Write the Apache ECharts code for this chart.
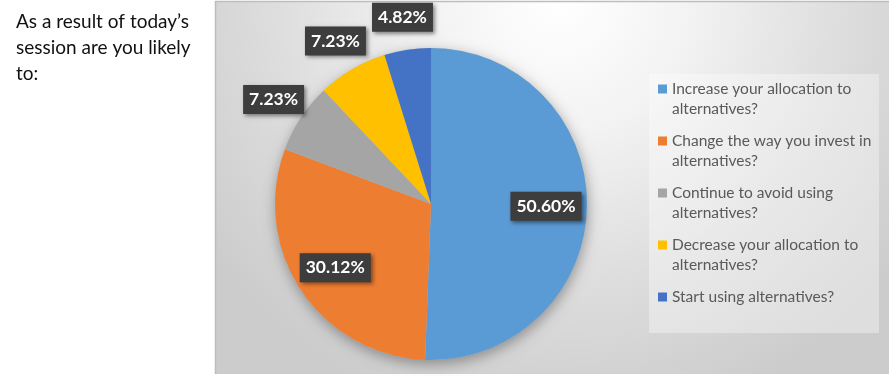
<!DOCTYPE html>
<html>
<head>
<meta charset="utf-8">
<script src="https://cdn.jsdelivr.net/npm/echarts@6/dist/echarts.min.js"></script>
<style>
  html, body { margin: 0; padding: 0; background: #ffffff; }
  #chart { width: 892px; height: 376px; }
</style>
</head>
<body>
<div id="chart"></div>
<script>
// ---- data ----
const categories = [
  'Increase your allocation to alternatives?',
  'Change the way you invest in alternatives?',
  'Continue to avoid using alternatives?',
  'Decrease your allocation to alternatives?',
  'Start using alternatives?'
];
const legendLabels = [
  'Increase your allocation to\nalternatives?',
  'Change the way you invest in\nalternatives?',
  'Continue to avoid using\nalternatives?',
  'Decrease your allocation to\nalternatives?',
  'Start using alternatives?'
];
const values = [50.60, 30.12, 7.23, 7.23, 4.82];
const colors = ['#5B9BD5', '#ED7D31', '#A5A5A5', '#FFC000', '#4472C4'];
const titleText = 'As a result of today\u2019s\nsession are you likely\nto:';

// ---- chart ----
const chart = echarts.init(document.getElementById('chart'), null, { renderer: 'canvas' });
const FONT = 'Lato, "Open Sans", sans-serif';
const center = [431, 204];
const R = 156;
const total = values.reduce((a, b) => a + b, 0);

const labelBox = {
  color: '#ffffff',
  fontFamily: FONT,
  fontWeight: 'bold',
  fontSize: 17.5,
  backgroundColor: '#3d3d3d',
  padding: [6, 6, 5, 6],
  shadowBlur: 4,
  shadowOffsetX: 2,
  shadowOffsetY: 2,
  shadowColor: 'rgba(0,0,0,0.45)',
  formatter: p => p.value.toFixed(2) + '%'
};

function labelSeries(radius, showFn) {
  return {
    type: 'pie',
    center: center,
    radius: radius,
    startAngle: 90,
    clockwise: true,
    silent: true,
    z: 5,
    animation: false,
    itemStyle: { color: 'rgba(0,0,0,0)', borderWidth: 0 },
    emphasis: { disabled: true },
    labelLine: { show: false },
    data: categories.map((c, i) => ({
      name: c,
      value: values[i],
      label: Object.assign({ show: showFn(values[i]), position: 'inside' }, labelBox)
    }))
  };
}

const option = {
  animation: false,
  title: {
    text: titleText,
    left: 16,
    top: 9,
    padding: 0,
    textStyle: {
      fontFamily: FONT,
      fontWeight: 'normal',
      fontSize: 19,
      lineHeight: 26,
      color: '#111111'
    }
  },
  graphic: [
    {
      type: 'rect',
      z: -10,
      shape: { x: 215, y: 1, width: 674, height: 373 },
      style: {
        fill: {
          type: 'radial', x: 0.51, y: 0.0, r: 1.15,
          colorStops: [
            { offset: 0, color: '#ffffff' },
            { offset: 0.3, color: '#f3f3f3' },
            { offset: 0.65, color: '#dedede' },
            { offset: 1, color: '#cccccc' }
          ]
        }
      }
    },
    {
      type: 'polyline',
      z: -9,
      shape: { points: [[215.5, 374], [215.5, 1.5], [889, 1.5]] },
      style: { stroke: '#bdbdbd', lineWidth: 1.5, fill: null }
    },
    {
      type: 'rect',
      z: -9,
      shape: { x: 649, y: 74, width: 230, height: 259 },
      style: { fill: 'rgba(255,255,255,0.35)' }
    }
  ],
  legend: {
    orient: 'vertical',
    left: 658,
    top: 59,
    padding: 0,
    itemGap: -8,
    itemWidth: 9,
    itemHeight: 9,
    icon: 'rect',
    selectedMode: false,
    data: categories.map((c, i) => ({ name: c, itemStyle: { color: colors[i] } })),
    formatter: name => {
      const lbl = legendLabels[categories.indexOf(name)];
      return '\n' + lbl + (lbl.indexOf('\n') < 0 ? '\n' : '');
    },
    textStyle: {
      fontFamily: FONT,
      fontSize: 15.5,
      lineHeight: 20,
      color: '#595959'
    }
  },
  series: [
    {
      type: 'pie',
      center: center,
      radius: R,
      silent: true,
      z: 1,
      itemStyle: {
        color: '#bbbbbb',
        shadowBlur: 14,
        shadowOffsetX: 1,
        shadowOffsetY: 4,
        shadowColor: 'rgba(0,0,0,0.35)'
      },
      label: { show: false },
      labelLine: { show: false },
      emphasis: { disabled: true },
      data: [{ name: '', value: total }]
    },
    {
      type: 'pie',
      center: center,
      radius: R,
      startAngle: 90,
      clockwise: true,
      z: 2,
      itemStyle: { borderWidth: 0 },
      label: { show: false },
      labelLine: { show: false },
      emphasis: { disabled: true },
      data: categories.map((c, i) => ({ name: c, value: values[i], itemStyle: { color: colors[i] } }))
    },
    labelSeries([100, 124], v => v >= 10),
    labelSeries([172, 200], v => v < 10)
  ]
};
chart.setOption(option);
</script>
</body>
</html>
